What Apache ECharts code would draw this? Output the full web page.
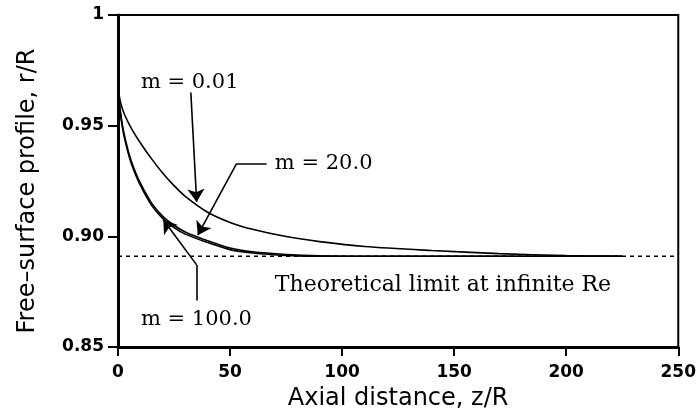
<!DOCTYPE html>
<html>
<head>
<meta charset="utf-8">
<script src="https://cdn.jsdelivr.net/npm/echarts@6/dist/echarts.min.js"></script>
<style>
  html, body { margin: 0; padding: 0; background: #fff; }
  #chart { width: 699px; height: 420px; }
</style>
</head>
<body>
<div id="chart"></div>
<script>
// axial distance z/R and free-surface profile r/R
const zLow = [0, 1, 2, 3, 5, 7, 10, 15, 20, 25, 30, 40, 50, 60, 75, 90, 110, 140, 170, 200, 225];
const rM001 = [0.967, 0.9612, 0.9575, 0.9548, 0.9506, 0.947, 0.9422, 0.935, 0.9285, 0.9229, 0.9181, 0.9109, 0.9063, 0.9032, 0.8999, 0.8976, 0.8954, 0.8936, 0.8922, 0.8913, 0.891];
const rM20 = [0.967, 0.957, 0.950, 0.945, 0.937, 0.931, 0.924, 0.915, 0.909, 0.905, 0.902, 0.898, 0.8947, 0.893, 0.8918, 0.8912, 0.891, 0.891, 0.891, 0.891, 0.891];
const rM100 = [0.967, 0.956, 0.949, 0.944, 0.936, 0.930, 0.923, 0.914, 0.908, 0.904, 0.901, 0.8972, 0.894, 0.8925, 0.8914, 0.891, 0.891, 0.891, 0.891, 0.891, 0.891];
const limitR = 0.891;

const xTicks = [0, 50, 100, 150, 200, 250];
const yTickLabels = { '0.85': '0.85', '0.9': '0.90', '0.95': '0.95', '1': '1' };

// annotation arrows as [z, r] polylines, arrowhead at the last point
const arrowM001 = [[32.5, 0.965], [35.1, 0.9155]];
const arrowM20 = [[66.3, 0.9328], [52.9, 0.9328], [35.6, 0.9005]];
const arrowM100 = [[35.1, 0.871], [35.1, 0.8871], [20.2, 0.9075]];

// annotation texts: [text, z, r, align, size]
const notes = [
  ['m = 0.01', 32, 0.9697, 'center', 21],
  ['m = 20.0', 70, 0.9327, 'left', 21],
  ['m = 100.0', 35, 0.8622, 'center', 21],
  ['Theoretical limit at infinite Re', 70, 0.878, 'left', 22]
];

const pair = (xs, ys) => xs.map((x, i) => [x, ys[i]]);

const chart = echarts.init(document.getElementById('chart'));

const curve = (name, data) => ({
  name: name,
  type: 'line',
  data: data,
  smooth: 0.3,
  symbol: 'none',
  lineStyle: { color: '#000', width: 1.6 },
  z: 3
});

// one lines series per arrow, each segment separate, head on the last one
const arrow = (pts) => ({
  type: 'lines',
  coordinateSystem: 'cartesian2d',
  symbolSize: [9, 13],
  lineStyle: { color: '#000', width: 1.6, opacity: 1 },
  data: pts.slice(1).map((p, i) => ({
    coords: [pts[i], p],
    symbol: ['none', i === pts.length - 2 ? 'arrow' : 'none']
  })),
  z: 4
});

chart.setOption({
  animation: false,
  backgroundColor: '#fff',
  grid: {
    left: 118, top: 15, right: 18, bottom: 73,
    show: true, borderColor: '#000', borderWidth: 2
  },
  xAxis: {
    type: 'value',
    min: 0, max: 250, interval: 50,
    name: 'Axial distance, z/R',
    nameLocation: 'middle',
    nameGap: 40,
    nameTextStyle: { fontFamily: 'DejaVu Sans', fontSize: 24, color: '#000' },
    axisLine: { lineStyle: { color: '#000', width: 3 } },
    axisTick: { show: true, length: 9, lineStyle: { color: '#000', width: 2 } },
    axisLabel: {
      fontFamily: 'DejaVu Sans', fontSize: 17, fontWeight: 'bold', color: '#000', margin: 17,
      formatter: v => (xTicks.indexOf(v) >= 0 ? String(v) : '')
    },
    splitLine: { show: false }
  },
  yAxis: {
    type: 'value',
    min: 0.85, max: 1, interval: 0.05,
    name: 'Free–surface profile, r/R',
    nameLocation: 'middle',
    nameGap: 78,
    nameTextStyle: { fontFamily: 'DejaVu Sans', fontSize: 24, color: '#000', padding: [0, 20, 0, 0] },
    axisLine: { lineStyle: { color: '#000', width: 3 } },
    axisTick: { show: true, length: 10, lineStyle: { color: '#000', width: 2 } },
    axisLabel: {
      fontFamily: 'DejaVu Sans', fontSize: 17, fontWeight: 'bold', color: '#000', margin: 14,
      formatter: v => yTickLabels[String(+v.toFixed(2))] || ''
    },
    splitLine: { show: false }
  },
  series: [
    curve('m = 0.01', pair(zLow, rM001)),
    curve('m = 20.0', pair(zLow, rM20)),
    curve('m = 100.0', pair(zLow, rM100)),
    {
      name: 'limit',
      type: 'line',
      data: [[0, limitR], [250, limitR]],
      symbol: 'none',
      lineStyle: { color: '#000', width: 1.6, type: [4, 4] },
      z: 2
    },
    arrow(arrowM001),
    arrow(arrowM20),
    arrow(arrowM100)
  ]
});

chart.setOption({
  graphic: notes.map(([text, z, r, align, size]) => {
    const p = chart.convertToPixel({ gridIndex: 0 }, [z, r]);
    return {
      type: 'text',
      x: p[0], y: p[1],
      style: {
        text: text,
        fill: '#000',
        align: align,
        verticalAlign: 'middle',
        font: size + 'px "DejaVu Serif"'
      },
      z: 10
    };
  })
});
</script>
</body>
</html>
